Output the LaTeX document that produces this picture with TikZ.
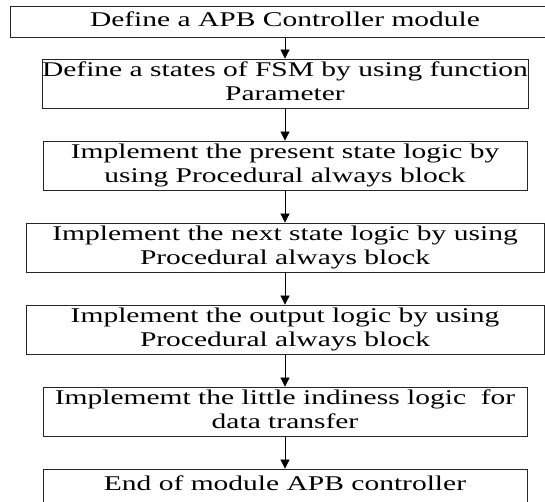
\documentclass[tikz,border=0pt]{standalone}
\usepackage{fontspec}
\setmainfont{Liberation Serif}
\usetikzlibrary{arrows.meta}
\newcommand{\sqtext}[1]{\scalebox{1}[0.71]{\begin{tabular}{@{}c@{}}#1\end{tabular}}}
\begin{document}
\begin{tikzpicture}[x=1pt,y=-1pt,
  stepbox/.style={draw=black!85, line width=0.8pt, inner sep=0pt, minimum height=49pt,
    align=center, font=\fontsize{29.5}{34}\selectfont},
  arr/.style={draw=black, line width=0.7pt, -{Triangle[width=9pt,length=9pt]}}]
\useasboundingbox (0,0) rectangle (545,501);
\clip (0,0) rectangle (545,501);
\node[stepbox, minimum width=550pt, minimum height=31pt] (b1) at (285,21.5) {\sqtext{Define a APB Controller module}};
\node[stepbox, minimum width=484pt] (b2) at (285,83.5) {\sqtext{Define a states of FSM by using function\\Parameter}};
\node[stepbox, minimum width=484pt] (b3) at (285,165.5) {\sqtext{Implement the present state logic by\\using Procedural always block}};
\node[stepbox, minimum width=518pt] (b4) at (285,247.5) {\sqtext{Implement the next state logic by using\\Procedural always block}};
\node[stepbox, minimum width=518pt] (b5) at (285,329.5) {\sqtext{Implement the output logic by using\\Procedural always block}};
\node[stepbox, minimum width=484pt] (b6) at (285,411.5) {\sqtext{Implememt the little indiness logic\ \ for\\data transfer}};
\node[stepbox, minimum width=484pt, minimum height=34pt] (b7) at (285,486) {\sqtext{End of module APB controller}};
\draw[arr] (b1.south) -- (b2.north);
\draw[arr] (b2.south) -- (b3.north);
\draw[arr] (b3.south) -- (b4.north);
\draw[arr] (b4.south) -- (b5.north);
\draw[arr] (b5.south) -- (b6.north);
\draw[arr] (b6.south) -- (b7.north);
\end{tikzpicture}
\end{document}
